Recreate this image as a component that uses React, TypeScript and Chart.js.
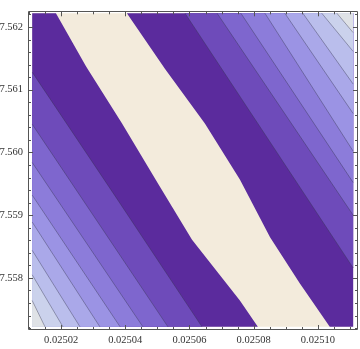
import React, { useEffect, useRef } from "react";
import { Chart, registerables } from "chart.js";

Chart.register(...registerables);

// Plot (data) range of the contour field and frame range of the axes
const X_RANGE = [0.025011, 0.025111];
const Y_RANGE = [7.55722, 7.56222];
const X_AXIS = [0.0250097, 0.0251125];
const Y_AXIS = [7.55717, 7.56225];

// Tick marks and labels
const X_TICKS = [0.02502, 0.02504, 0.02506, 0.02508, 0.0251];
const X_TICK_LABELS = ["0.02502", "0.02504", "0.02506", "0.02508", "0.02510"];
const X_MINOR = [0.02501, 0.025015, 0.025025, 0.02503, 0.025035, 0.025045, 0.02505, 0.025055, 0.025065, 0.02507, 0.025075, 0.025085, 0.02509, 0.025095, 0.025105, 0.02511];
const Y_TICKS = [7.558, 7.559, 7.56, 7.561, 7.562];
const Y_TICK_LABELS = ["7.558", "7.559", "7.560", "7.561", "7.562"];
const Y_MINOR = [7.5572, 7.5574, 7.5576, 7.5578, 7.5582, 7.5584, 7.5586, 7.5588, 7.5592, 7.5594, 7.5596, 7.5598, 7.5602, 7.5604, 7.5606, 7.5608, 7.5612, 7.5614, 7.5616, 7.5618, 7.5622];

// Contour lines, lower-left side (from the centre band outward)
const LL_0 = [[0.0250184, 7.56222], [0.0250278, 7.56137], [0.025039, 7.56046], [0.02505, 7.55952], [0.0250608, 7.55861], [0.0250757, 7.55764], [0.0250813, 7.55722]];
const LL_1 = [[0.025011, 7.56128], [0.0250377, 7.55924], [0.0250639, 7.55722]];
const LL_2 = [[0.025011, 7.56045], [0.0250533, 7.55722]];
const LL_3 = [[0.025011, 7.55984], [0.0250455, 7.55722]];
const LL_4 = [[0.025011, 7.55932], [0.0250384, 7.55722]];
const LL_5 = [[0.025011, 7.55889], [0.0250321, 7.55722]];
const LL_6 = [[0.025011, 7.55844], [0.0250259, 7.55722]];
const LL_7 = [[0.025011, 7.55805], [0.0250206, 7.55722]];
const LL_8 = [[0.025011, 7.55764], [0.025015, 7.55722]];

// Contour lines, upper-right side (from the centre band outward)
const UR_0 = [[0.0250405, 7.56222], [0.0250524, 7.56133], [0.0250648, 7.56046], [0.0250757, 7.55957], [0.0250851, 7.55865], [0.0250944, 7.55791], [0.0251037, 7.55722]];
const UR_1 = [[0.0250586, 7.56222], [0.025111, 7.55816]];
const UR_2 = [[0.0250686, 7.56222], [0.025111, 7.559]];
const UR_3 = [[0.025076, 7.56222], [0.025111, 7.55952]];
const UR_4 = [[0.0250835, 7.56222], [0.025111, 7.56002]];
const UR_5 = [[0.0250897, 7.56222], [0.025111, 7.56062]];
const UR_6 = [[0.0250953, 7.56222], [0.025111, 7.56109]];
const UR_7 = [[0.0251012, 7.56222], [0.025111, 7.56161]];
const UR_8 = [[0.0251059, 7.56222], [0.025111, 7.56191]];

const LOWER_LEFT = [LL_0, LL_1, LL_2, LL_3, LL_4, LL_5, LL_6, LL_7, LL_8];
const UPPER_RIGHT = [UR_0, UR_1, UR_2, UR_3, UR_4, UR_5, UR_6, UR_7, UR_8];

const CENTER_COLOR = "#F3EBDC";
const BAND_COLORS = ["#5B2B9D", "#6E4BBA", "#7E66CE", "#8C7CDA", "#9B93E4", "#AAA8E9", "#BABEEC", "#CBD2EC", "#DFE2E6"];
const LINE_COLOR = "rgba(50,50,75,0.5)";

const toPts = (arr: number[][]) => arr.map(([x, y]) => ({ x, y }));

function buildDatasets() {
  const [x0, x1] = X_RANGE;
  const [y0, y1] = Y_RANGE;
  const layers: any[] = [];
  const poly = (pts: number[][], color: string) => ({
    data: toPts(pts),
    showLine: true,
    fill: "shape",
    backgroundColor: color,
    borderColor: "rgba(0,0,0,0)",
    borderWidth: 0,
    pointRadius: 0,
    pointHoverRadius: 0,
    tension: 0,
  });
  layers.push(poly([[x0, y0], [x1, y0], [x1, y1], [x0, y1], [x0, y0]], CENTER_COLOR));
  LOWER_LEFT.forEach((line, k) => {
    layers.push(poly([...line, [x0, y0], [x0, y1], line[0]], BAND_COLORS[k]));
  });
  UPPER_RIGHT.forEach((line, k) => {
    layers.push(poly([...line, [x1, y0], [x1, y1], line[0]], BAND_COLORS[k]));
  });
  [...LOWER_LEFT.slice(1), ...UPPER_RIGHT.slice(1)].forEach((line) => {
    layers.push({
      data: toPts(line),
      showLine: true,
      fill: false,
      borderColor: LINE_COLOR,
      borderWidth: 0.8,
      pointRadius: 0,
      pointHoverRadius: 0,
      tension: 0,
    });
  });
  const n = layers.length;
  return layers.map((d, i) => ({ ...d, order: n - i }));
}

const framePlugin = {
  id: "mmaFrame",
  afterDraw(chart: any) {
    const { ctx, chartArea: a, scales } = chart;
    const xs = scales.x;
    const ys = scales.y;
    ctx.save();
    ctx.strokeStyle = "#555";
    ctx.lineWidth = 1;
    ctx.beginPath();
    ctx.rect(Math.round(a.left) + 0.5, Math.round(a.top) + 0.5, Math.round(a.right - a.left) - 1, Math.round(a.bottom - a.top) - 1);
    ctx.stroke();
    const drawX = (vals: number[], len: number) => {
      vals.forEach((v) => {
        const px = Math.round(xs.getPixelForValue(v)) + 0.5;
        ctx.beginPath();
        ctx.moveTo(px, a.bottom);
        ctx.lineTo(px, a.bottom - len);
        ctx.moveTo(px, a.top);
        ctx.lineTo(px, a.top + len);
        ctx.stroke();
      });
    };
    const drawY = (vals: number[], len: number) => {
      vals.forEach((v) => {
        const py = Math.round(ys.getPixelForValue(v)) + 0.5;
        ctx.beginPath();
        ctx.moveTo(a.left, py);
        ctx.lineTo(a.left + len, py);
        ctx.moveTo(a.right, py);
        ctx.lineTo(a.right - len, py);
        ctx.stroke();
      });
    };
    drawX(X_TICKS, 5);
    drawX(X_MINOR, 3);
    drawY(Y_TICKS, 5);
    drawY(Y_MINOR, 3);
    ctx.restore();
  },
};

const labelFor = (ticks: number[], labels: string[], v: number) => {
  let best = 0;
  ticks.forEach((t, i) => {
    if (Math.abs(t - v) < Math.abs(ticks[best] - v)) best = i;
  });
  return labels[best];
};

export default function App() {
  const ref = useRef<HTMLCanvasElement | null>(null);
  useEffect(() => {
    if (!ref.current) return;
    const font = { family: "'Liberation Serif', 'Times New Roman', serif", size: 10.5 };
    const chart = new Chart(ref.current, {
      type: "scatter",
      data: { datasets: buildDatasets() as any },
      plugins: [framePlugin],
      options: {
        animation: false,
        responsive: true,
        maintainAspectRatio: false,
        layout: { padding: { top: 6, right: 2, left: 0, bottom: 0 } },
        plugins: { legend: { display: false }, tooltip: { enabled: false } },
        events: [],
        scales: {
          x: {
            type: "linear",
            min: X_AXIS[0],
            max: X_AXIS[1],
            afterBuildTicks: (ax: any) => {
              ax.ticks = X_TICKS.map((v) => ({ value: v }));
            },
            afterFit: (ax: any) => {
              ax.height = 19;
            },
            ticks: {
              autoSkip: false,
              maxRotation: 0,
              padding: 4,
              color: "#333",
              font,
              callback: (v: any) => labelFor(X_TICKS, X_TICK_LABELS, Number(v)),
            },
            grid: { display: false, drawTicks: false },
            border: { display: false },
          },
          y: {
            type: "linear",
            min: Y_AXIS[0],
            max: Y_AXIS[1],
            afterBuildTicks: (ax: any) => {
              ax.ticks = Y_TICKS.map((v) => ({ value: v }));
            },
            afterFit: (ax: any) => {
              ax.width = 28;
            },
            ticks: {
              autoSkip: false,
              padding: 5,
              color: "#333",
              font,
              callback: (v: any) => labelFor(Y_TICKS, Y_TICK_LABELS, Number(v)),
            },
            grid: { display: false, drawTicks: false },
            border: { display: false },
          },
        },
      } as any,
    });
    return () => chart.destroy();
  }, []);
  return (
    <div style={{ position: "fixed", left: 0, top: 0, width: 360, height: 349, background: "#fff" }}>
      <canvas ref={ref} />
    </div>
  );
}
